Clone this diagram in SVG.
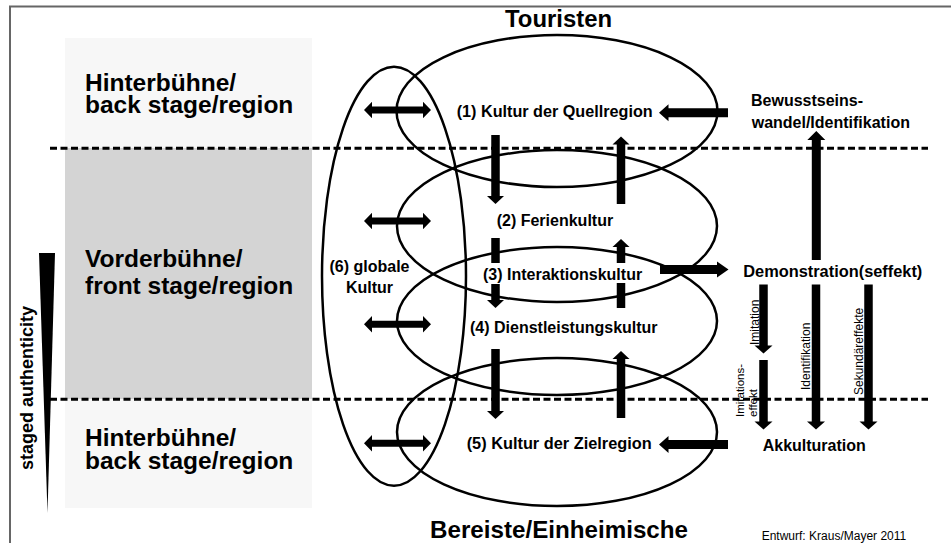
<svg xmlns="http://www.w3.org/2000/svg" width="951" height="543" viewBox="0 0 951 543">
<style>
text{font-family:"Liberation Sans",Arial,sans-serif;fill:#000}
.b{font-weight:bold}
.reg{font-size:24.5px;font-weight:bold}
.lab{font-size:16px;font-weight:bold}
.sm{font-size:12px}
.ell{fill:none;stroke:#000;stroke-width:2.5}
.dash{stroke:#000;stroke-width:3;stroke-dasharray:7 3.5}
.arr{fill:#000}
</style>
<defs>
<polygon id="dbl" points="0,0 8,-8.3 8,-3.5 59,-3.5 59,-8.3 67,0 59,8.3 59,3.5 8,3.5 8,8.3"/>
<polygon id="left" points="0,0 9.5,-8.5 9.5,-4.5 69,-4.5 69,4.5 9.5,4.5 9.5,8.5"/>
</defs>
<rect width="951" height="543" fill="#fff"/>
<path d="M10,543 V6.5 H951" fill="none" stroke="#666" stroke-width="2"/>

<g id="region-back-top">
<rect x="65" y="38" width="247" height="110" fill="#f7f7f7"/>
<text class="reg" x="85" y="90.7">Hinterbühne/</text>
<text class="reg" x="85" y="113.3">back stage/region</text>
</g>
<g id="region-front">
<rect x="65" y="148" width="247" height="251" fill="#d4d4d4"/>
<text class="reg" x="85" y="266.7">Vorderbühne/</text>
<text class="reg" x="85" y="294">front stage/region</text>
</g>
<g id="region-back-bottom">
<rect x="65" y="399" width="247" height="109" fill="#f7f7f7"/>
<text class="reg" x="85" y="446">Hinterbühne/</text>
<text class="reg" x="85" y="469.3">back stage/region</text>
</g>

<g id="staged-authenticity">
<polygon points="39,253 55,253 47.5,513" fill="#000"/>
<text class="b" font-size="18" transform="translate(33.3,470) rotate(-90)">staged authenticity</text>
</g>

<g id="dividers">
<line class="dash" x1="50" y1="148.3" x2="928" y2="148.3"/>
<line class="dash" x1="50" y1="399.3" x2="928" y2="399.3"/>
</g>

<g id="title-touristen"><text class="b" font-size="23.5" x="505" y="26.7" textLength="107" lengthAdjust="spacingAndGlyphs">Touristen</text></g>
<g id="title-bereiste"><text class="b" font-size="24.5" x="430" y="537.5" textLength="258" lengthAdjust="spacingAndGlyphs">Bereiste/Einheimische</text></g>

<g id="node-globale-kultur">
<ellipse class="ell" cx="394" cy="276.2" rx="72" ry="209.5"/>
<text class="lab" x="369.5" y="271.7" text-anchor="middle">(6) globale</text>
<text class="lab" x="369.5" y="293.3" text-anchor="middle">Kultur</text>
</g>
<g id="node-quellregion">
<ellipse class="ell" cx="557" cy="111" rx="160.5" ry="76"/>
<text class="lab" x="456.7" y="116.5" textLength="196" lengthAdjust="spacingAndGlyphs">(1) Kultur der Quellregion</text>
</g>
<g id="node-ferienkultur">
<ellipse class="ell" cx="557" cy="226" rx="160" ry="76"/>
<text class="lab" x="496.7" y="226">(2) Ferienkultur</text>
</g>
<g id="node-dienstleistungskultur">
<ellipse class="ell" cx="557" cy="321" rx="160" ry="74"/>
<text class="lab" x="470" y="333.3">(4) Dienstleistungskultur</text>
</g>
<g id="node-zielregion">
<ellipse class="ell" cx="557" cy="432" rx="160" ry="74"/>
<text class="lab" x="466.7" y="448.5" textLength="185" lengthAdjust="spacingAndGlyphs">(5) Kultur der Zielregion</text>
</g>
<g id="node-interaktionskultur">
<text class="lab" x="483" y="280">(3) Interaktionskultur</text>
</g>
<g id="node-bewusstseinswandel">
<text class="lab" x="751" y="106">Bewusstseins-</text>
<text class="lab" x="751.7" y="128.3">wandel/Identifikation</text>
</g>
<g id="node-demonstration">
<text class="lab" x="743.3" y="277" textLength="179" lengthAdjust="spacingAndGlyphs">Demonstration(seffekt)</text>
</g>
<g id="node-akkulturation">
<text class="lab" x="762.7" y="451">Akkulturation</text>
</g>

<g id="connectors" class="arr">
<use href="#dbl" x="364" y="110"/>
<use href="#dbl" x="364" y="221"/>
<use href="#dbl" x="364" y="324.3"/>
<use href="#dbl" x="364" y="443.3"/>
<use href="#left" x="659" y="112.8"/>
<use href="#left" x="659" y="444.5"/>
<polygon points="660,265 717,265 717,261.5 728.5,269.5 717,277.5 717,274 660,274"/>
<polygon points="491.25,135 499.75,135 499.75,196 504,196 495.5,204 487,196 491.25,196"/>
<rect x="491.25" y="238" width="8.5" height="25"/>
<polygon points="491.25,284 499.75,284 499.75,300 504,300 495.5,308 487,300 491.25,300"/>
<polygon points="491.25,349 499.75,349 499.75,411 504,411 495.5,419 487,411 491.25,411"/>
<polygon points="616.75,204 625.25,204 625.25,144.5 629.5,144.5 621,136.5 612.5,144.5 616.75,144.5"/>
<polygon points="616.75,263 625.25,263 625.25,247 629.5,247 621,239 612.5,247 616.75,247"/>
<rect x="616.75" y="283" width="8.5" height="25"/>
<polygon points="616.75,418 625.25,418 625.25,359 629.5,359 621,351 612.5,359 616.75,359"/>
<polygon points="811.8,260 820.8,260 820.8,140 825.3,140 816.3,131 807.3,140 811.8,140"/>
<polygon points="759.25,284.5 767.75,284.5 767.75,345.5 772.5,345.5 763.5,353.5 754.5,345.5 759.25,345.5"/>
<polygon points="759.25,360 767.75,360 767.75,421.5 772.5,421.5 763.5,429.5 754.5,421.5 759.25,421.5"/>
<polygon points="811.75,284.5 820.25,284.5 820.25,421.5 825,421.5 816,429.5 807,421.5 811.75,421.5"/>
<polygon points="864.25,284.5 872.75,284.5 872.75,421.5 877.5,421.5 868.5,429.5 859.5,421.5 864.25,421.5"/>
</g>

<g id="connector-labels">
<text class="sm" transform="translate(759.3,345) rotate(-90)">Imitation</text>
<text font-size="11.5" transform="translate(744,417) rotate(-90)">Imitations-</text>
<text font-size="11.5" transform="translate(757,417) rotate(-90)">effekt</text>
<text class="sm" transform="translate(810,390) rotate(-90)">Identifikation</text>
<text class="sm" transform="translate(863,395) rotate(-90)">Sekundäreffekte</text>
</g>

<g id="credit"><text class="sm" x="761.7" y="540">Entwurf: Kraus/Mayer 2011</text></g>
</svg>
